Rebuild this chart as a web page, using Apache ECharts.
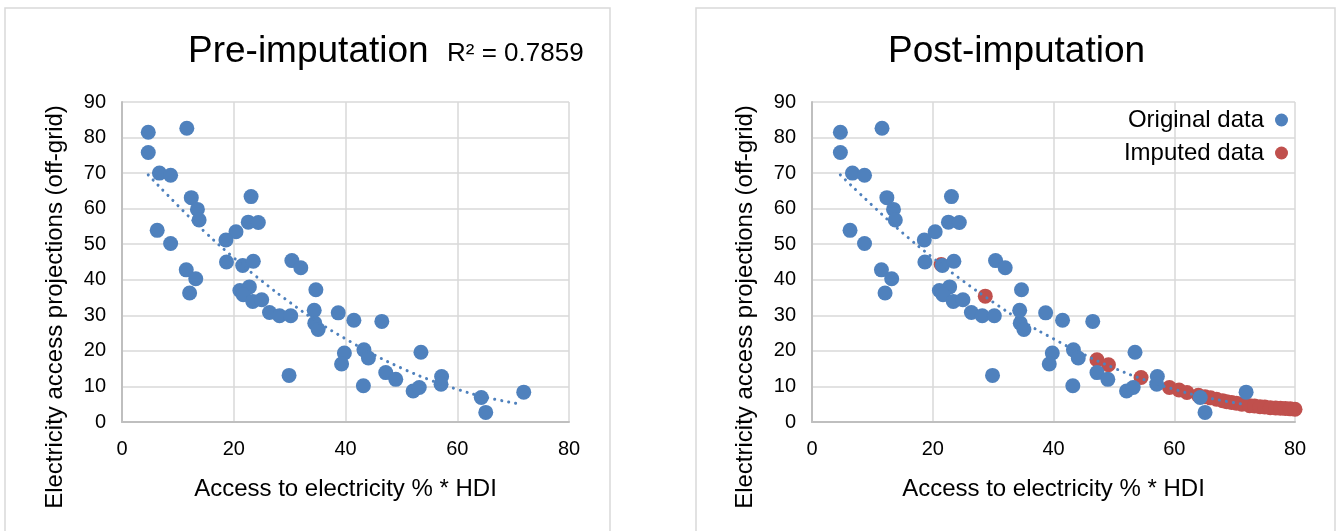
<!DOCTYPE html>
<html lang="en">
<head>
    <meta charset="UTF-8">
    <title>Pre / Post imputation</title>
    <script src="https://cdn.jsdelivr.net/npm/echarts@6/dist/echarts.min.js"></script>
    <style>
        html, body { margin: 0; padding: 0; background: #fff; }
        #chart { width: 1340px; height: 531px; }
    </style>
</head>
<body>
    <div id="chart"></div>
    <script>
        // 原始数据 [x, y]
        let originalData = [
            [4.7, 81.5], [4.7, 75.8], [11.6, 82.6], [6.7, 70.0], [8.7, 69.4],
            [12.4, 63.1], [13.5, 59.8], [13.8, 56.8], [6.3, 53.9], [8.7, 50.2],
            [11.5, 42.8], [13.2, 40.3], [12.1, 36.3], [23.1, 63.4], [22.6, 56.2],
            [24.4, 56.1], [20.4, 53.5], [18.6, 51.2], [18.7, 45.0], [21.6, 44.0],
            [23.5, 45.2], [30.4, 45.4], [32.0, 43.4], [21.1, 37.0], [22.8, 38.0],
            [21.7, 35.8], [23.4, 33.9], [25.0, 34.4], [26.4, 30.8], [28.2, 29.9],
            [30.2, 29.9], [29.9, 13.1], [34.7, 37.2], [34.4, 31.4], [34.5, 27.8],
            [35.1, 26.0], [38.7, 30.7], [41.5, 28.6], [46.5, 28.3], [39.8, 19.4],
            [39.3, 16.3], [43.3, 20.3], [44.1, 18.0], [43.2, 10.2], [53.5, 19.6],
            [47.2, 13.9], [49.0, 12.0], [52.1, 8.7], [53.2, 9.7], [57.2, 12.8],
            [57.1, 10.6], [64.3, 6.9], [65.1, 2.7], [71.9, 8.4]
        ];
        // 插补数据
        let imputedData = [
            [21.4, 44.3], [28.7, 35.4], [47.2, 17.5], [49.1, 16.1], [54.5, 12.5],
            [59.2, 9.7], [60.8, 9.0], [62.1, 8.3], [64.0, 7.5], [65.1, 7.1],
            [66.0, 6.8], [67.0, 6.4], [68.0, 6.0], [68.7, 5.7], [69.5, 5.5],
            [70.3, 5.3], [71.2, 5.0], [72.5, 4.6], [73.3, 4.5], [74.2, 4.3],
            [75.0, 4.2], [75.9, 4.0], [76.8, 3.95], [77.6, 3.9], [78.4, 3.8],
            [79.2, 3.7], [80.0, 3.6]
        ];
        // 趋势线
        let trendData = [
            [4.7, 69.5], [10, 60.9], [15, 53.2], [20, 46.2], [25, 39.7],
            [30, 33.7], [35, 28.2], [40, 23.4], [45, 19.0], [50, 15.2],
            [55, 11.9], [60, 9.2], [65, 7.0], [71.5, 5.0]
        ];
        let panelTitles = ['Pre-imputation', 'Post-imputation'];
        let r2Label = 'R² = 0.7859';
        let xAxisName = 'Access to electricity % * HDI';
        let yAxisName = 'Electricity access projections (off-grid)';
        let legendNames = ['Original data', 'Imputed data'];

        let font = 'Liberation Sans, Arial, sans-serif';
        let blue = '#4F81BD';
        let red = '#C0504D';

        function makeXAxis(gridIndex) {
            return {
                gridIndex: gridIndex,
                type: 'value',
                min: 0, max: 80, interval: 20,
                name: xAxisName,
                nameLocation: 'middle',
                nameGap: 55,
                nameTextStyle: { fontSize: 24, color: '#000', fontFamily: font },
                axisLine: { lineStyle: { color: '#BFBFBF', width: 2 } },
                axisTick: { show: false },
                axisLabel: { fontSize: 20, color: '#000', fontFamily: font, margin: 17 },
                splitLine: { lineStyle: { color: '#D9D9D9', width: 1.5 } }
            };
        }
        function makeYAxis(gridIndex) {
            return {
                gridIndex: gridIndex,
                type: 'value',
                min: 0, max: 90, interval: 10,
                axisLine: { show: true, lineStyle: { color: '#BFBFBF', width: 2 } },
                axisTick: { show: false },
                axisLabel: { fontSize: 20, color: '#000', fontFamily: font, margin: 16 },
                splitLine: { lineStyle: { color: '#D9D9D9', width: 1.5 } }
            };
        }
        function trendSeries(idx) {
            return {
                type: 'line',
                xAxisIndex: idx, yAxisIndex: idx,
                data: trendData,
                smooth: true,
                showSymbol: false,
                silent: true,
                z: 5,
                lineStyle: { color: blue, width: 3, type: [0.1, 7], cap: 'round' }
            };
        }

        let chart = echarts.init(document.getElementById('chart'));
        chart.setOption({
            animation: false,
            backgroundColor: '#fff',
            title: [
                { text: panelTitles[0], left: 188, top: 33, padding: 0,
                  textStyle: { fontSize: 37, fontWeight: 'normal', color: '#000', fontFamily: font } },
                { text: panelTitles[1], left: 888, top: 33, padding: 0,
                  textStyle: { fontSize: 37, fontWeight: 'normal', color: '#000', fontFamily: font } },
                { text: r2Label, left: 447, top: 41, padding: 0,
                  textStyle: { fontSize: 26, fontWeight: 'normal', color: '#000', fontFamily: font } }
            ],
            legend: {
                data: legendNames,
                orient: 'vertical',
                right: 47,
                top: 103,
                align: 'right',
                itemGap: 9,
                itemWidth: 13,
                itemHeight: 13,
                icon: 'circle',
                selectedMode: false,
                textStyle: { fontSize: 24, color: '#000', fontFamily: font, padding: [0, 6, 0, 0] }
            },
            grid: [
                { left: 122, top: 102, width: 447, height: 320 },
                { left: 812, top: 102, width: 483, height: 320 }
            ],
            xAxis: [makeXAxis(0), makeXAxis(1)],
            yAxis: [makeYAxis(0), makeYAxis(1)],
            graphic: [
                { type: 'rect', shape: { x: 5, y: 8, width: 605, height: 540 },
                  style: { fill: null, stroke: '#D9D9D9', lineWidth: 1.5 }, silent: true },
                { type: 'rect', shape: { x: 696, y: 8, width: 639, height: 540 },
                  style: { fill: null, stroke: '#D9D9D9', lineWidth: 1.5 }, silent: true },
                { type: 'text', x: 55, y: 307, rotation: Math.PI / 2,
                  style: { text: yAxisName, fontSize: 24, fill: '#000', fontFamily: font,
                           textAlign: 'center', textVerticalAlign: 'middle' } },
                { type: 'text', x: 745, y: 307, rotation: Math.PI / 2,
                  style: { text: yAxisName, fontSize: 24, fill: '#000', fontFamily: font,
                           textAlign: 'center', textVerticalAlign: 'middle' } }
            ],
            series: [
                {
                    name: 'Original data', type: 'scatter',
                    xAxisIndex: 0, yAxisIndex: 0,
                    data: originalData, symbolSize: 15,
                    itemStyle: { color: blue, opacity: 1 }
                },
                trendSeries(0),
                {
                    name: 'Imputed data', type: 'scatter',
                    xAxisIndex: 1, yAxisIndex: 1,
                    data: imputedData, symbolSize: 15,
                    itemStyle: { color: red, opacity: 1 }
                },
                {
                    name: 'Original data', type: 'scatter',
                    xAxisIndex: 1, yAxisIndex: 1,
                    data: originalData, symbolSize: 15,
                    itemStyle: { color: blue, opacity: 1 }
                },
                trendSeries(1)
            ]
        });
    </script>
</body>
</html>
